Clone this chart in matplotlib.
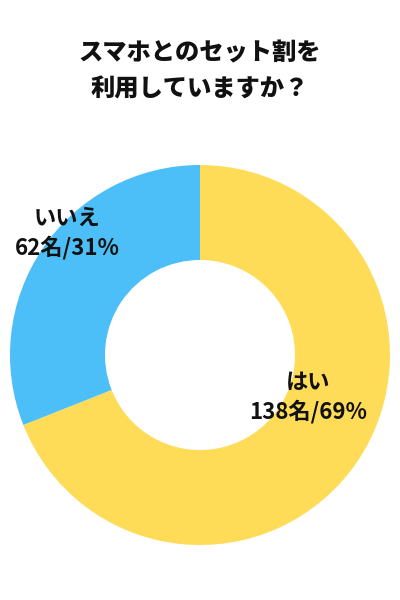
import matplotlib
matplotlib.use("Agg")
import matplotlib.pyplot as plt

plt.rcParams['font.family'] = ['Noto Sans CJK JP', 'DejaVu Sans']

title_lines = ["スマホとのセット割を", "利用していますか？"]
categories = ["はい", "いいえ"]
counts = [138, 62]
percents = [69, 31]
colors = ["#FFDC58", "#4DBFF8"]

fig = plt.figure(figsize=(4, 6), dpi=100)
ax = fig.add_axes([0, 0, 1, 1])

# y axis is flipped below, so startangle=-90 is 12 o'clock and
# counterclock=True runs clockwise on screen
ax.pie(percents, colors=colors, startangle=-90, counterclock=True,
       center=(200, 355), radius=190, frame=True,
       wedgeprops=dict(width=95, linewidth=0))
ax.set_xlim(0, 400)
ax.set_ylim(600, 0)
ax.set_aspect('auto')
ax.axis('off')

for i, line in enumerate(title_lines):
    ax.text(200, 53 + 36 * i, line, ha='center', va='center',
            fontsize=17.5, fontweight='heavy', color='#111111')

label_pos = [(308, 382), (67, 218)]
for cat, n, p, (x, y) in zip(categories, counts, percents, label_pos):
    ax.text(x, y, cat, ha='center', va='center', fontsize=16,
            fontweight='bold', color='#111111')
    ax.text(x, y + 30, f"{n}名/{p}%", ha='center', va='center',
            fontsize=16, fontweight='bold', color='#111111')

fig.savefig("out.png", dpi=100)
